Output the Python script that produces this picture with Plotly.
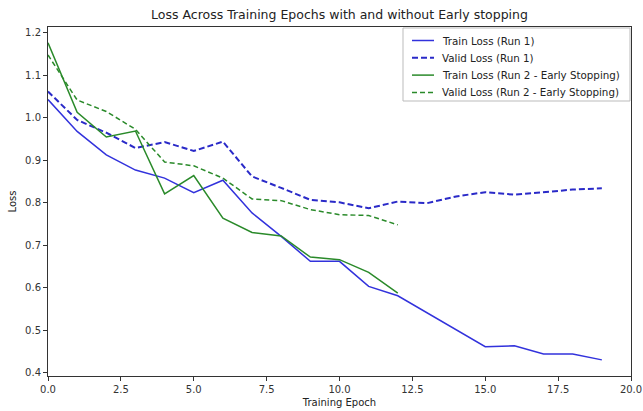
import plotly.graph_objects as go

epochs_run1 = list(range(20))
epochs_run2 = list(range(13))

train_run1 = [1.043, 0.968, 0.913, 0.877, 0.858, 0.824, 0.853, 0.776, 0.721, 0.662,
              0.662, 0.603, 0.581, 0.541, 0.501, 0.461, 0.463, 0.444, 0.444, 0.430]
valid_run1 = [1.062, 0.995, 0.965, 0.929, 0.943, 0.922, 0.944, 0.862, 0.835, 0.807,
              0.801, 0.787, 0.803, 0.799, 0.815, 0.825, 0.819, 0.825, 0.831, 0.834]
train_run2 = [1.177, 1.013, 0.955, 0.969, 0.821, 0.864, 0.764, 0.730, 0.722, 0.672,
              0.666, 0.636, 0.587]
valid_run2 = [1.148, 1.042, 1.015, 0.973, 0.896, 0.887, 0.858, 0.809, 0.805, 0.784,
              0.772, 0.770, 0.748]

names = ["Train Loss (Run 1)", "Valid Loss (Run 1)",
         "Train Loss (Run 2 - Early Stopping)", "Valid Loss (Run 2 - Early Stopping)"]

x_ticks = [0, 2.5, 5, 7.5, 10, 12.5, 15, 17.5, 20]
y_ticks = [0.4, 0.5, 0.6, 0.7, 0.8, 0.9, 1.0, 1.1, 1.2]

styles = [
    dict(color="#3232dc", width=1.5),
    dict(color="#2a2ac8", width=2, dash="6px,3px"),
    dict(color="#2a8a2a", width=1.5),
    dict(color="#2a8a2a", width=1.5, dash="5px,3px"),
]
series = [(epochs_run1, train_run1), (epochs_run1, valid_run1),
          (epochs_run2, train_run2), (epochs_run2, valid_run2)]

fig = go.Figure()
for (xs, ys), name, st in zip(series, names, styles):
    fig.add_trace(go.Scatter(x=xs, y=ys, mode="lines", name=name, line=st,
                             showlegend=False))

W, H = 643, 411
L, R, T, B = 48, 12, 27, 35
pw, ph = W - L - R, H - T - B


def px_x(p):
    return (p - L) / pw


def px_y(p):
    return (H - B - p) / ph


# legend box (drawn in paper space, like matplotlib's legend)
fig.add_shape(type="rect", xref="paper", yref="paper",
              x0=px_x(403), x1=px_x(630), y0=px_y(101), y1=px_y(28),
              line=dict(color="#bbbbbb", width=1), fillcolor="rgba(255,255,255,0.85)",
              layer="above")
row_y = [40.5, 57.8, 75.1, 92.4]
for ry, name, st in zip(row_y, names, styles):
    fig.add_shape(type="line", xref="paper", yref="paper",
                  x0=px_x(412), x1=px_x(434), y0=px_y(ry), y1=px_y(ry),
                  line=st, layer="above")
    fig.add_annotation(xref="paper", yref="paper", x=px_x(440), y=px_y(ry),
                       xanchor="left", yanchor="middle", showarrow=False,
                       text=name, font=dict(size=10.3, color="#222"))

font = "DejaVu Sans, sans-serif"
axis_common = dict(showline=True, linecolor="#333", linewidth=1, mirror=True,
                   ticks="outside", ticklen=4, tickcolor="#333", showgrid=False,
                   zeroline=False, automargin=False,
                   tickfont=dict(size=10, color="#333"))

fig.update_layout(
    width=W, height=H,
    margin=dict(l=L, r=R, t=T, b=B),
    paper_bgcolor="white", plot_bgcolor="white",
    font=dict(family=font, color="#222"),
    title=dict(text="Loss Across Training Epochs with and without Early stopping",
               x=339.5 / W, xanchor="center",
               y=1 - 15 / H, yanchor="middle", font=dict(size=12.5, color="#222")),
    xaxis=dict(range=[0, 20], tickvals=x_ticks, tickformat=".1f",
               title=dict(text="Training Epoch", font=dict(size=10), standoff=4),
               **axis_common),
    yaxis=dict(range=[0.392, 1.214], tickvals=y_ticks, tickformat=".1f",
               title=dict(text="Loss", font=dict(size=10), standoff=6),
               **axis_common),
    showlegend=False,
)

fig.write_html("out.html", config={"displayModeBar": False},
               post_script="document.body.style.margin='0';document.body.style.overflow='hidden';")
